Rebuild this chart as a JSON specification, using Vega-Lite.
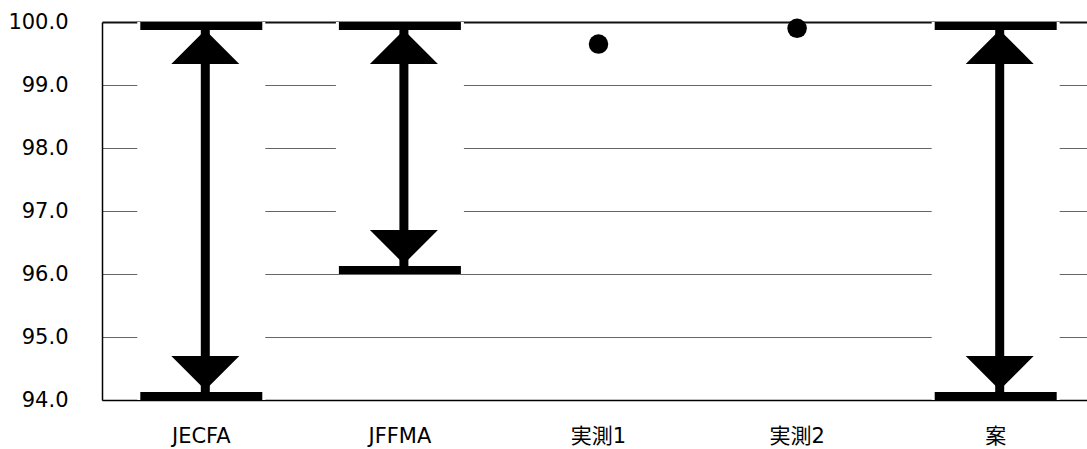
{
  "$schema": "https://vega.github.io/schema/vega-lite/v6.json",
  "autosize": {"type": "none"},
  "padding": {"left": 102, "top": 22, "right": 0, "bottom": 49},
  "width": 985,
  "height": 378,
  "background": "white",
  "config": {
    "view": {"stroke": null},
    "font": "DejaVu Sans, Noto Sans CJK JP",
    "axis": {"labelFont": "DejaVu Sans, Noto Sans CJK JP", "labelColor": "#000", "labelFontSize": 21, "ticks": false, "tickSize": 0, "title": null, "domainColor": "#000", "domainWidth": 1.5}
  },
  "data": {
    "values": [
      {"cat": "JECFA", "lo": 94, "hi": 100, "val": null},
      {"cat": "JFFMA", "lo": 96, "hi": 100, "val": null},
      {"cat": "実測1", "lo": null, "hi": null, "val": 99.65},
      {"cat": "実測2", "lo": null, "hi": null, "val": 99.9},
      {"cat": "案", "lo": 94, "hi": 100, "val": null}
    ]
  },
  "encoding": {
    "x": {
      "field": "cat", "type": "nominal",
      "sort": ["JECFA", "JFFMA", "実測1", "実測2", "案"],
      "scale": {"domain": ["JECFA", "JFFMA", "実測1", "実測2", "案"], "range": [0, 993], "paddingInner": 0, "paddingOuter": 0},
      "axis": {"labelAngle": 0, "labelPadding": 25, "grid": false}
    }
  },
  "layer": [
    {
      "transform": [{"filter": "datum.lo != null"}],
      "mark": {"type": "bar", "color": "white", "width": 128},
      "encoding": {
        "y": {"field": "lo", "type": "quantitative",
          "scale": {"domain": [94, 100], "nice": false, "zero": false},
          "axis": {"values": [94, 95, 96, 97, 98, 99, 100], "format": ".1f", "labelPadding": 34, "grid": true,
            "gridColor": {"condition": {"test": "datum.value === 100", "value": "#111"}, "value": "#666"},
            "gridWidth": {"condition": {"test": "datum.value === 100", "value": 2}, "value": 1}}},
        "y2": {"field": "hi"}
      }
    },
    {
      "transform": [{"filter": "datum.lo != null"}],
      "mark": {"type": "rule", "color": "black", "strokeWidth": 9, "xOffset": 4},
      "encoding": {
        "y": {"field": "lo", "type": "quantitative"},
        "y2": {"field": "hi"}
      }
    },
    {
      "transform": [{"filter": "datum.lo != null"}],
      "mark": {"type": "point", "shape": "M0,0L1,1L-1,1Z", "filled": true, "color": "black", "opacity": 1, "size": 4624, "xOffset": 4, "yOffset": 8},
      "encoding": {
        "y": {"field": "hi", "type": "quantitative"}
      }
    },
    {
      "transform": [{"filter": "datum.lo != null"}],
      "mark": {"type": "point", "shape": "M0,0L1,-1L-1,-1Z", "filled": true, "color": "black", "opacity": 1, "size": 4624, "xOffset": 4, "yOffset": -10},
      "encoding": {
        "y": {"field": "lo", "type": "quantitative"}
      }
    },
    {
      "transform": [{"filter": "datum.lo != null"}],
      "mark": {"type": "tick", "color": "black", "opacity": 1, "size": 122, "thickness": 8, "yOffset": 4},
      "encoding": {
        "y": {"field": "hi", "type": "quantitative"}
      }
    },
    {
      "transform": [{"filter": "datum.lo != null"}],
      "mark": {"type": "tick", "color": "black", "opacity": 1, "size": 122, "thickness": 8, "yOffset": -4},
      "encoding": {
        "y": {"field": "lo", "type": "quantitative"}
      }
    },
    {
      "transform": [{"filter": "datum.val != null"}],
      "mark": {"type": "point", "shape": "circle", "filled": true, "color": "black", "opacity": 1, "size": 380},
      "encoding": {
        "y": {"field": "val", "type": "quantitative"}
      }
    }
  ]
}
